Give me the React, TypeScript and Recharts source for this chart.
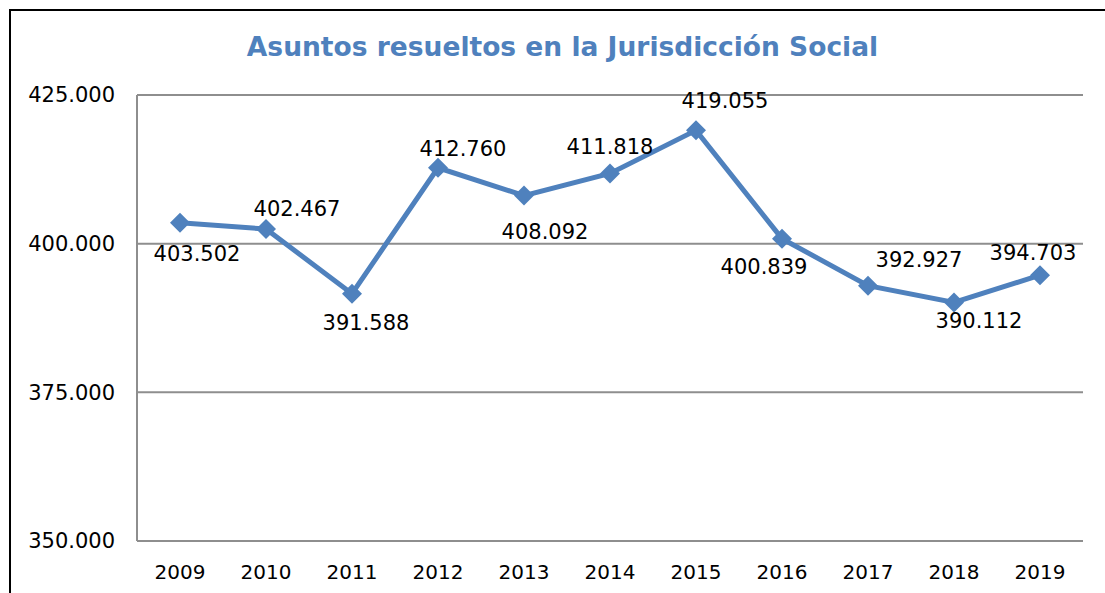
import { LineChart, Line, XAxis, YAxis, CartesianGrid } from "recharts";

const years = ["2009", "2010", "2011", "2012", "2013", "2014", "2015", "2016", "2017", "2018", "2019"];
const resueltos = [403502, 402467, 391588, 412760, 408092, 411818, 419055, 400839, 392927, 390112, 394703];
const yTicks = [350000, 375000, 400000, 425000];

// where each data label sits relative to its point (dx, dy)
const labelOffsets: [number, number][] = [
  [17, 31], [31, -20], [14, 29], [25, -19], [21, 36], [0, -26],
  [29, -29], [-18, 28], [51, -26], [25, 19], [-7, -22],
];

const BLUE = "#4F81BD";
const FONT = "'DejaVu Sans', Verdana, sans-serif";

const fmt = (v: number) =>
  String(Math.round(v)).replace(/\B(?=(\d{3})+(?!\d))/g, ".");

const data = years.map((y, i) => ({ year: y, value: resueltos[i] }));

function Diamond(props: any) {
  const { cx, cy } = props;
  if (cx == null || cy == null) return null;
  const r = 10;
  return (
    <polygon
      points={`${cx},${cy - r} ${cx + r},${cy} ${cx},${cy + r} ${cx - r},${cy}`}
      fill={BLUE}
    />
  );
}

function ValueLabel(props: any) {
  const { x, y, value, index } = props;
  const [dx, dy] = labelOffsets[index] || [0, -24];
  return (
    <text
      x={x + dx}
      y={y + dy}
      textAnchor="middle"
      dominantBaseline="central"
      fontSize={21}
      fontFamily={FONT}
      fill="#000"
    >
      {fmt(value)}
    </text>
  );
}

export default function App() {
  return (
    <div style={{ position: "absolute", left: 0, top: 0, width: 1105, height: 593, background: "#fff", overflow: "hidden" }}>
      <div
        style={{
          position: "absolute",
          left: 9,
          top: 9,
          width: 1105,
          height: 600,
          borderLeft: "2px solid #000",
          borderTop: "2px solid #000",
        }}
      />
      <div
        style={{
          position: "absolute",
          left: 0,
          top: 31,
          width: 1125,
          textAlign: "center",
          fontFamily: FONT,
          fontWeight: "bold",
          fontSize: 26.5,
          color: BLUE,
        }}
      >
        Asuntos resueltos en la Jurisdicción Social
      </div>
      <div style={{ position: "absolute", left: 0, top: 0 }}>
        <LineChart
          width={1105}
          height={593}
          data={data}
          margin={{ top: 95, right: 22, bottom: 22, left: 0 }}
        >
          <CartesianGrid vertical={false} stroke="#8e8e8e" strokeWidth={2} />
          <XAxis
            dataKey="year"
            height={30}
            padding={{ left: 43, right: 43 }}
            axisLine={{ stroke: "#8e8e8e", strokeWidth: 2 }}
            tickLine={false}
            tickSize={0}
            tickMargin={24}
            tick={{ fontSize: 20, fill: "#000", fontFamily: FONT }}
            interval={0}
          />
          <YAxis
            width={137}
            domain={[350000, 425000]}
            ticks={yTicks}
            tickFormatter={fmt}
            axisLine={{ stroke: "#8e8e8e", strokeWidth: 2 }}
            tickLine={false}
            tickSize={0}
            tickMargin={22}
            tick={{ fontSize: 21, fill: "#000", fontFamily: FONT }}
          />
          <Line
            dataKey="value"
            stroke={BLUE}
            strokeWidth={5}
            dot={<Diamond />}
            activeDot={false}
            label={<ValueLabel />}
            isAnimationActive={false}
          />
        </LineChart>
      </div>
    </div>
  );
}
